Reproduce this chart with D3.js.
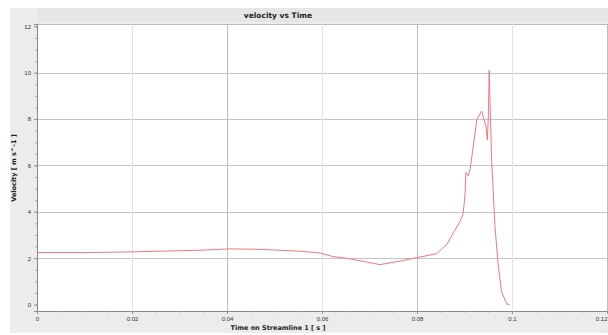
<!DOCTYPE html>
<html>
<head>
<meta charset="utf-8">
<script src="https://cdn.jsdelivr.net/npm/d3@7"></script>
<style>
  body { margin: 0; background: #fff; }
  svg { display: block; font-family: "DejaVu Sans", sans-serif; }
</style>
</head>
<body>
<svg id="chart"></svg>
<script>
// time [s] and velocity [m s^-1]
var times = [0, 0.01, 0.02, 0.03, 0.0343, 0.0406, 0.0469, 0.0554, 0.0596, 0.0623, 0.0659, 0.0694, 0.0722,
  0.0764, 0.0799, 0.0841, 0.0863, 0.0891, 0.0897, 0.0901, 0.0903, 0.0908, 0.0912, 0.0926, 0.0936,
  0.0945, 0.0948, 0.095, 0.0952, 0.0957, 0.0964, 0.0971, 0.0978, 0.0989, 0.0995];
var velocity = [2.24, 2.24, 2.27, 2.32, 2.34, 2.4, 2.38, 2.3, 2.22, 2.07, 1.97, 1.83, 1.72,
  1.87, 2.02, 2.19, 2.6, 3.6, 3.9, 4.7, 5.7, 5.55, 5.84, 7.98, 8.34,
  7.7, 7.1, 8.0, 10.1, 6.3, 3.4, 1.7, 0.55, 0.02, 0.0];
var xTicks = [0, 0.02, 0.04, 0.06, 0.08, 0.1, 0.12];
var xTickLabels = ["0", "0.02", "0.04", "0.06", "0.08", "0.1", "0.12"];
var yTicks = [0, 2, 4, 6, 8, 10, 12];

var svgWidth = 608, svgHeight = 335;
var margin = {top: 24, right: 0, bottom: 24, left: 37};
var width = svgWidth - margin.left - margin.right;
var height = svgHeight - margin.top - margin.bottom;

var svg = d3.select("#chart")
  .attr("width", svgWidth)
  .attr("height", svgHeight);

// gray panel behind everything
svg.append("rect")
  .attr("x", 10).attr("y", 8)
  .attr("width", svgWidth - 10).attr("height", svgHeight - 10)
  .attr("fill", "#ececec");

// title band
svg.append("rect")
  .attr("x", 37).attr("y", 8)
  .attr("width", svgWidth - 37).attr("height", 14)
  .attr("fill", "#e6e6e6");
svg.append("text")
  .attr("x", 278).attr("y", 18)
  .attr("text-anchor", "middle")
  .attr("font-size", 7.5)
  .attr("font-weight", "bold")
  .attr("fill", "#222")
  .text("velocity vs Time");

var g = svg.append("g")
  .attr("transform", "translate(" + margin.left + "," + margin.top + ")");

var x = d3.scaleLinear().domain([0, 0.12]).range([0, 570]);
var y = d3.scaleLinear().domain([-0.28, 12.1]).range([height, 0]);

g.append("rect")
  .attr("width", width).attr("height", height)
  .attr("fill", "#fff");
g.append("line")
  .attr("x1", 0).attr("x2", width).attr("y1", 0.5).attr("y2", 0.5)
  .attr("stroke", "#bbb");

// grid
g.append("g")
  .selectAll("line")
  .data(yTicks.filter(function (d) { return d > 0 && d < 12; }))
  .enter().append("line")
  .attr("x1", 0).attr("x2", width)
  .attr("y1", function (d) { return Math.round(y(d)) + 0.5; })
  .attr("y2", function (d) { return Math.round(y(d)) + 0.5; })
  .attr("stroke", "#c4c4c4");
g.append("g")
  .selectAll("line")
  .data(xTicks.filter(function (d) { return d > 0; }))
  .enter().append("line")
  .attr("y1", 0).attr("y2", height)
  .attr("x1", function (d) { return Math.round(x(d)) + 0.5; })
  .attr("x2", function (d) { return Math.round(x(d)) + 0.5; })
  .attr("stroke", function (d, i) { return i % 2 === 1 ? "#bcbcbc" : "#e2e2e2"; });

// axes
var xAxis = g.append("g")
  .attr("transform", "translate(0," + height + ")")
  .call(d3.axisBottom(x)
    .tickValues(xTicks)
    .tickFormat(function (d, i) { return xTickLabels[i]; })
    .tickSize(3));
var yAxis = g.append("g")
  .call(d3.axisLeft(y).tickValues(yTicks).tickSize(3));
g.append("g")
  .call(d3.axisLeft(y).tickValues(d3.range(0, 12.01, 0.5)).tickSize(1.5).tickFormat(""))
  .select(".domain").remove();
g.append("g")
  .attr("transform", "translate(0," + height + ")")
  .call(d3.axisBottom(x).tickValues(d3.range(0, 0.1201, 0.005)).tickSize(1.5).tickFormat(""))
  .select(".domain").remove();

[xAxis, yAxis].forEach(function (a) {
  a.selectAll("text").attr("font-size", 6).attr("fill", "#333");
  a.select(".domain").attr("stroke", "#888");
  a.selectAll("line").attr("stroke", "#888");
});
g.selectAll(".tick line").attr("stroke", "#999");
// last x label sits at the right edge
xAxis.selectAll(".tick text")
  .filter(function (d) { return d === 0.12; })
  .attr("text-anchor", "end");

// axis titles
svg.append("text")
  .attr("x", 278).attr("y", 330)
  .attr("text-anchor", "middle")
  .attr("font-size", 6.5)
  .attr("font-weight", "bold")
  .attr("fill", "#222")
  .text("Time on Streamline 1 [ s ]");
svg.append("text")
  .attr("transform", "translate(16,168) rotate(-90)")
  .attr("text-anchor", "middle")
  .attr("font-size", 6.5)
  .attr("font-weight", "bold")
  .attr("fill", "#222")
  .text("Velocity [ m s^-1 ]");

var data = times.map(function (t, i) { return {t: t, v: velocity[i]}; });
var line = d3.line()
  .x(function (d) { return x(d.t); })
  .y(function (d) { return y(d.v); });

g.append("path")
  .datum(data)
  .attr("fill", "none")
  .attr("stroke", "#ee7880")
  .attr("stroke-width", 1)
  .attr("stroke-linejoin", "round")
  .attr("d", line);
</script>
</body>
</html>
